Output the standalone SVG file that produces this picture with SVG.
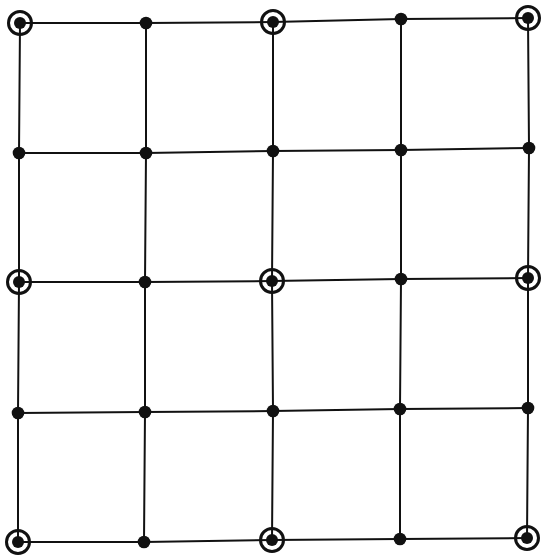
<svg xmlns="http://www.w3.org/2000/svg" width="543" height="557" viewBox="0 0 543 557">
<style>
.e{fill:none;stroke:#111;stroke-width:2}
.d{fill:#111}
.r{fill:none;stroke:#111;stroke-width:3}
</style>
<defs>
<circle id="dot" r="6.3" class="d"/>
<g id="ring"><circle r="11.5" class="r"/><circle r="6" class="d"/></g>
</defs>
<rect width="543" height="557" fill="#fff"/>
<g id="connectors">
<polyline class="e" points="20,23 146,23 273,22 401,19 528,18"/>
<polyline class="e" points="19,153 146,153 273,151 401,150 529,148"/>
<polyline class="e" points="19,282 145,282 272,281 401,279 528,278"/>
<polyline class="e" points="18,413 145,412 273,411 400,409 528,408"/>
<polyline class="e" points="18,542 144,542 272,540 400,539 527,538"/>
<polyline class="e" points="20,23 19,153 19,282 18,413 18,542"/>
<polyline class="e" points="146,23 146,153 145,282 145,412 144,542"/>
<polyline class="e" points="273,22 273,151 272,281 273,411 272,540"/>
<polyline class="e" points="401,19 401,150 401,279 400,409 400,539"/>
<polyline class="e" points="528,18 529,148 528,278 528,408 527,538"/>
</g>
<g id="n00"><use href="#ring" x="20" y="23"/></g>
<g id="n01"><use href="#dot" x="146" y="23"/></g>
<g id="n02"><use href="#ring" x="273" y="22"/></g>
<g id="n03"><use href="#dot" x="401" y="19"/></g>
<g id="n04"><use href="#ring" x="528" y="18"/></g>
<g id="n10"><use href="#dot" x="19" y="153"/></g>
<g id="n11"><use href="#dot" x="146" y="153"/></g>
<g id="n12"><use href="#dot" x="273" y="151"/></g>
<g id="n13"><use href="#dot" x="401" y="150"/></g>
<g id="n14"><use href="#dot" x="529" y="148"/></g>
<g id="n20"><use href="#ring" x="19" y="282"/></g>
<g id="n21"><use href="#dot" x="145" y="282"/></g>
<g id="n22"><use href="#ring" x="272" y="281"/></g>
<g id="n23"><use href="#dot" x="401" y="279"/></g>
<g id="n24"><use href="#ring" x="528" y="278"/></g>
<g id="n30"><use href="#dot" x="18" y="413"/></g>
<g id="n31"><use href="#dot" x="145" y="412"/></g>
<g id="n32"><use href="#dot" x="273" y="411"/></g>
<g id="n33"><use href="#dot" x="400" y="409"/></g>
<g id="n34"><use href="#dot" x="528" y="408"/></g>
<g id="n40"><use href="#ring" x="18" y="542"/></g>
<g id="n41"><use href="#dot" x="144" y="542"/></g>
<g id="n42"><use href="#ring" x="272" y="540"/></g>
<g id="n43"><use href="#dot" x="400" y="539"/></g>
<g id="n44"><use href="#ring" x="527" y="538"/></g>
</svg>
